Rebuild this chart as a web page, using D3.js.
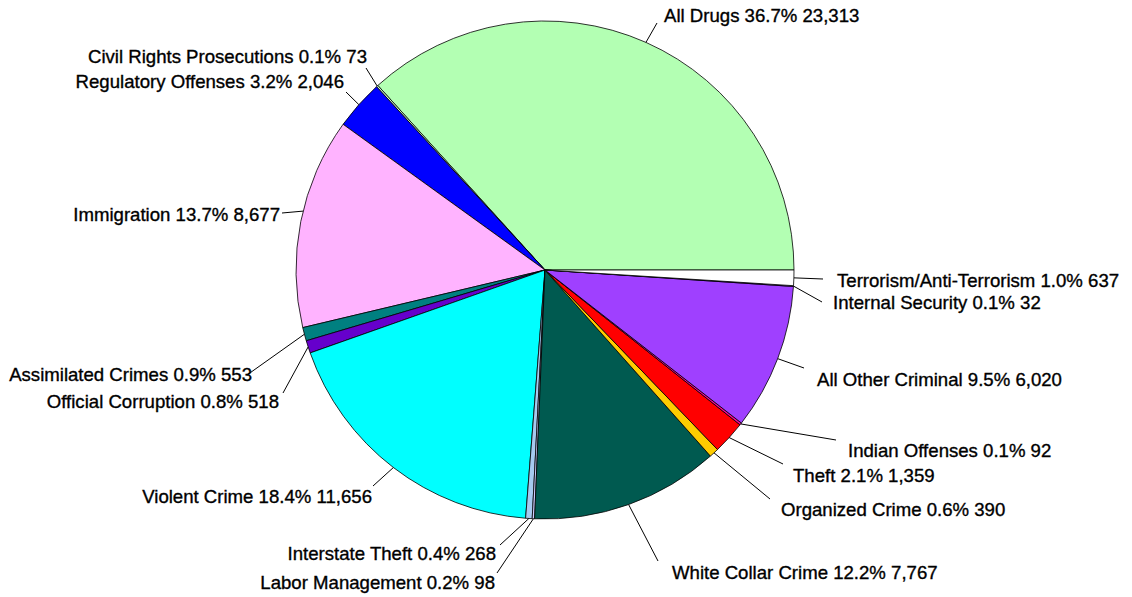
<!DOCTYPE html>
<html>
<head>
<meta charset="utf-8">
<script src="https://cdn.jsdelivr.net/npm/d3@7"></script>
<style>
  html, body { margin: 0; padding: 0; background: #ffffff; }
  svg { display: block; }
  .lbl { font-family: "Liberation Sans", Arial, sans-serif; font-size: 18.6px; fill: #000;
         stroke: #000; stroke-width: 0.35px; paint-order: stroke; }
</style>
</head>
<body>
<svg id="chart" width="1132" height="597"></svg>
<script>
// Federal criminal case categories, counter-clockwise from 3 o'clock
const categories = [
  "All Drugs", "Civil Rights Prosecutions", "Regulatory Offenses", "Immigration",
  "Assimilated Crimes", "Official Corruption", "Violent Crime", "Interstate Theft",
  "Labor Management", "White Collar Crime", "Organized Crime", "Theft",
  "Indian Offenses", "All Other Criminal", "Internal Security", "Terrorism/Anti-Terrorism"
];
const counts = [
  23313, 73, 2046, 8677,
  553, 518, 11656, 268,
  98, 7767, 390, 1359,
  92, 6020, 32, 637
];
const percentLabels = [
  "36.7%", "0.1%", "3.2%", "13.7%",
  "0.9%", "0.8%", "18.4%", "0.4%",
  "0.2%", "12.2%", "0.6%", "2.1%",
  "0.1%", "9.5%", "0.1%", "1.0%"
];
const sliceColors = [
  "#b3ffb3", "#ccffcc", "#0000ff", "#ffb3ff",
  "#008080", "#6600cc", "#00ffff", "#a6caf0",
  "#ccccff", "#005a50", "#ffcc00", "#ff0000",
  "#ff0099", "#9f40ff", "#8000ff", "#ffffff"
];

// label placement: end of leader line, text anchor point, side
const labelLayout = [
  { end: [657, 23],  text: [664, 22],  anchor: "start" },
  { end: [366, 68],  text: [367, 63],  anchor: "end" },
  { end: [346, 92],  text: [344, 88],  anchor: "end" },
  { end: [282, 213], text: [280, 221], anchor: "end", at: 0.45 },
  { end: [247, 375], text: [252, 381], anchor: "end" },
  { end: [283, 393], text: [279, 408], anchor: "end" },
  { end: [373, 486], text: [372, 503], anchor: "end" },
  { end: [500, 545], text: [496, 560], anchor: "end" },
  { end: [497, 573], text: [495, 589], anchor: "end" },
  { end: [658, 561], text: [672, 579], anchor: "start" },
  { end: [770, 499], text: [781, 516], anchor: "start" },
  { end: [783, 464], text: [793, 482], anchor: "start" },
  { end: [836, 440], text: [848, 457], anchor: "start" },
  { end: [804, 368], text: [817, 386], anchor: "start" },
  { end: [822, 302], text: [833, 309], anchor: "start" },
  { end: [823, 279], text: [837, 287], anchor: "start" }
];

const cx = 545, cy = 270, radius = 249;
const fmt = d3.format(",");

const rows = categories.map((c, i) => ({
  name: c, value: counts[i], pct: percentLabels[i], color: sliceColors[i], layout: labelLayout[i]
}));

// d3 angles: 0 at 12 o'clock, clockwise. Start at 3 o'clock and run counter-clockwise.
const pie = d3.pie()
  .value(d => d.value)
  .sort(null)
  .startAngle(Math.PI / 2)
  .endAngle(Math.PI / 2 - 2 * Math.PI);

const arcs = pie(rows);
const arcGen = d3.arc().innerRadius(0).outerRadius(radius);

const svg = d3.select("#chart");
const g = svg.append("g").attr("transform", `translate(${cx},${cy})`);

g.selectAll("path.slice")
  .data(arcs)
  .join("path")
  .attr("class", "slice")
  .attr("d", arcGen)
  .attr("fill", d => d.data.color)
  .attr("stroke", "#000")
  .attr("stroke-width", 0.8)
  .attr("stroke-linejoin", "round");

// point on the rim at a fraction through the slice
function rimPoint(d) {
  const f = d.data.layout.at != null ? d.data.layout.at : 0.5;
  const a = d.startAngle + (d.endAngle - d.startAngle) * f;
  return [cx + radius * Math.sin(a), cy - radius * Math.cos(a)];
}

svg.selectAll("line.leader")
  .data(arcs)
  .join("line")
  .attr("class", "leader")
  .attr("x1", d => rimPoint(d)[0])
  .attr("y1", d => rimPoint(d)[1])
  .attr("x2", d => d.data.layout.end[0])
  .attr("y2", d => d.data.layout.end[1])
  .attr("stroke", "#000")
  .attr("stroke-width", 1);

svg.selectAll("text.lbl")
  .data(arcs)
  .join("text")
  .attr("class", "lbl")
  .attr("x", d => d.data.layout.text[0])
  .attr("y", d => d.data.layout.text[1])
  .attr("text-anchor", d => d.data.layout.anchor)
  .text(d => `${d.data.name} ${d.data.pct} ${fmt(d.data.value)}`);
</script>
</body>
</html>
